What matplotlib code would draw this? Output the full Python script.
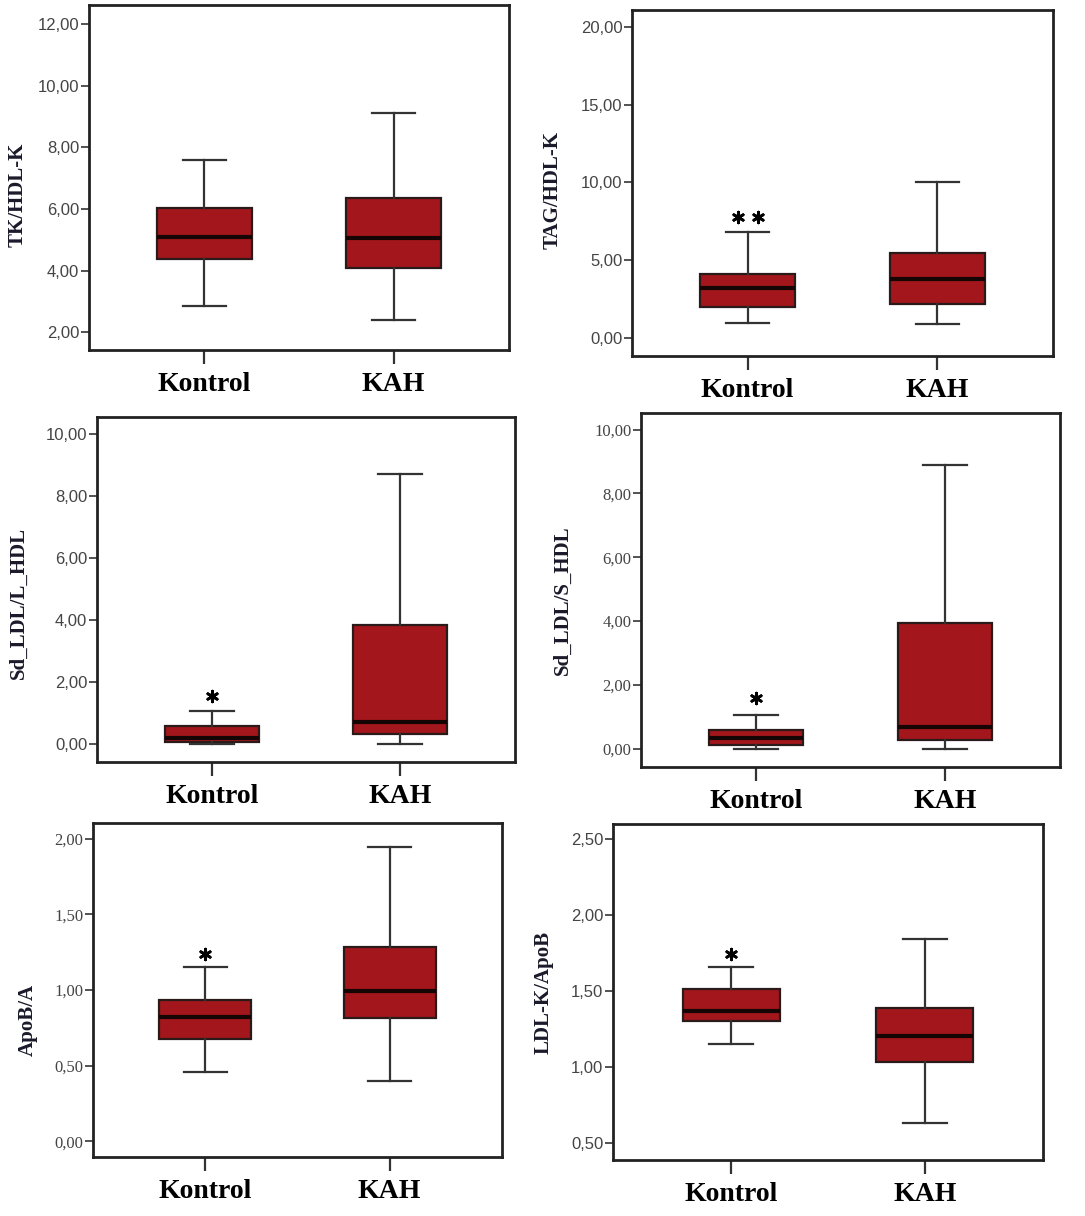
import numpy as np
import matplotlib
matplotlib.use('Agg')
import matplotlib.pyplot as plt

groups = ['Kontrol', 'KAH']

# per panel: y label, lower whisker, q1, median, q3, upper whisker (Kontrol, KAH)
ylabels = ['TK/HDL-K', 'TAG/HDL-K', 'Sd_LDL/L_HDL', 'Sd_LDL/S_HDL', 'ApoB/A', 'LDL-K/ApoB']
whislo = [[2.84, 2.40], [0.96, 0.90], [0.00, 0.00], [0.00, 0.00], [0.455, 0.40], [1.15, 0.632]]
q1 = [[4.37, 4.08], [2.03, 2.20], [0.07, 0.32], [0.10, 0.28], [0.675, 0.813], [1.307, 1.033]]
med = [[5.08, 5.05], [3.21, 3.79], [0.19, 0.70], [0.33, 0.68], [0.819, 0.995], [1.37, 1.206]]
q3 = [[6.03, 6.36], [4.11, 5.46], [0.57, 3.82], [0.57, 3.93], [0.934, 1.287], [1.513, 1.392]]
whishi = [[7.58, 9.10], [6.84, 10.01], [1.07, 8.71], [1.05, 8.90], [1.154, 1.945], [1.662, 1.844]]

# significance marks above Kontrol
stars = ['*', '**', '*', '*', '*', '*']
star_y = [None, 7.8, 1.54, 1.59, 1.24, 1.745]

yticks = [np.arange(2, 12.1, 2), np.arange(0, 20.1, 5), np.arange(0, 10.1, 2),
          np.arange(0, 10.1, 2), np.arange(0, 2.01, 0.5), np.arange(0.5, 2.51, 0.5)]
ylims = [(1.42, 12.62), (-1.14, 21.07), (-0.59, 10.54), (-0.58, 10.52), (-0.104, 2.104), (0.39, 2.60)]

# axes boxes in pixels: left, right, top, bottom
W, H = 1085, 1216
boxes = [(89, 509, 5, 350), (632, 1053, 10, 356), (97, 515, 417, 762),
         (641, 1060, 413, 767), (93, 502, 823, 1157), (613, 1043, 824, 1160)]
label_xy = [(-0.145, 0.45), (-0.164, 0.48), (-0.162, 0.46), (-0.162, 0.47), (-0.136, 0.41), (-0.139, 0.50)]
tick_fonts = ['Liberation Sans', 'Liberation Sans', 'Liberation Sans', 'Liberation Serif',
              'Liberation Serif', 'Liberation Sans']

boxcolor = '#A3161B'
fig = plt.figure(figsize=(W / 100, H / 100), dpi=100)

for i in range(6):
    l, r, t, b = boxes[i]
    ax = fig.add_axes([l / W, 1 - b / H, (r - l) / W, (b - t) / H])
    stats = []
    for g in range(2):
        stats.append({'whislo': whislo[i][g], 'q1': q1[i][g], 'med': med[i][g],
                      'q3': q3[i][g], 'whishi': whishi[i][g], 'fliers': [], 'label': groups[g]})
    ax.bxp(stats, positions=[1, 2], widths=0.5, capwidths=0.23, patch_artist=True,
           showfliers=False,
           boxprops=dict(facecolor=boxcolor, edgecolor='#2a1a1a', linewidth=1.6),
           medianprops=dict(color='#150505', linewidth=3),
           whiskerprops=dict(color='#333333', linewidth=1.6),
           capprops=dict(color='#333333', linewidth=1.6))
    if star_y[i] is not None:
        if stars[i] == '**':
            xs = [0.947, 1.053]
        else:
            xs = [1.0]
        ax.scatter(xs, [star_y[i]] * len(xs), marker=(6, 2, 0), s=60, color='black',
                   linewidths=2, zorder=5)
    ax.set_xlim(0.39, 2.61)
    ax.set_ylim(*ylims[i])
    ax.set_yticks(yticks[i])
    ax.set_yticklabels([('%.2f' % v).replace('.', ',') for v in yticks[i]],
                       fontsize=12, color='#444444', family=tick_fonts[i])
    ax.set_xticks([1, 2])
    ax.set_xticklabels(groups, fontsize=20, fontweight='bold', family='Liberation Serif')
    ax.tick_params(axis='y', length=6, width=1.3, color='#444444', pad=1)
    ax.tick_params(axis='x', length=10, width=1.6, color='#333333', pad=6)
    ax.set_ylabel(ylabels[i], fontsize=15, fontweight='bold', family='Liberation Serif',
                  color='#1a1a2a')
    ax.yaxis.set_label_coords(*label_xy[i])
    for s in ax.spines.values():
        s.set_linewidth(2)
        s.set_color('#222222')

plt.savefig('out.png', dpi=100)
